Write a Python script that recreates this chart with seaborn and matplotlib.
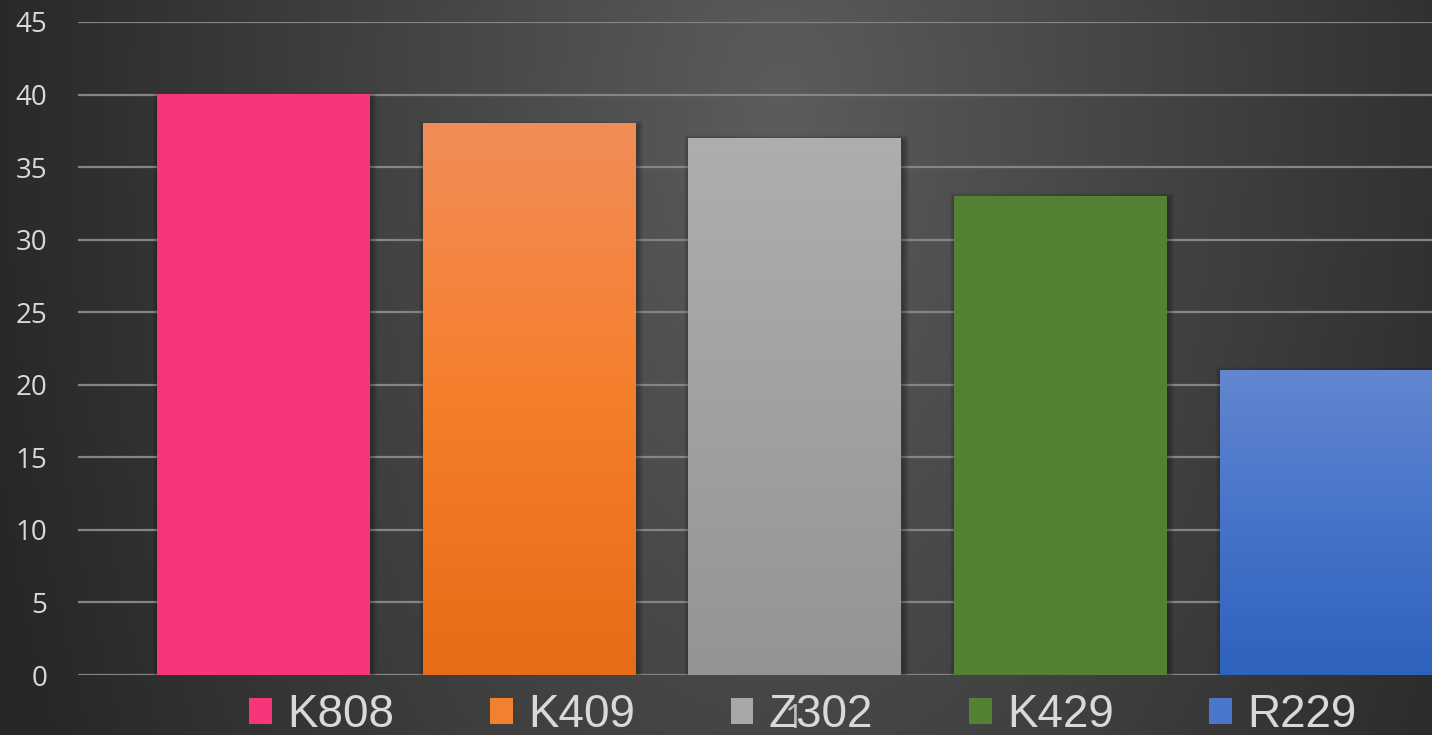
import numpy as np
import pandas as pd
import matplotlib
matplotlib.use("Agg")
import matplotlib.pyplot as plt
import seaborn as sns
from matplotlib.colors import LinearSegmentedColormap
from matplotlib.patches import Patch, Rectangle

series = ["K808", "K409", "Z302", "K429", "R229"]
values = [40, 38, 37, 33, 21]
category = "1"
yticks = [0, 5, 10, 15, 20, 25, 30, 35, 40, 45]

# top -> bottom colour stops for each bar
stops = {
    "K808": ["#F8357B", "#F8357B"],
    "K409": ["#F28D58", "#F57E2A", "#E66C17"],
    "Z302": ["#AEAEAE", "#A1A1A1", "#949494"],
    "K429": ["#548235", "#548235"],
    "R229": ["#6386CF", "#4673CA", "#2F62BD"],
}
legend_colors = ["#F8357B", "#F2802E", "#A8A8A8", "#548235", "#4A77CB"]

df = pd.DataFrame({"cat": [category] * len(series), "series": series, "value": values})

sns.set_theme(style="dark")
W, H = 1432, 735
fig = plt.figure(figsize=(W / 100, H / 100), dpi=100)

# radial background
bg = fig.add_axes([0, 0, 1, 1])
bg.axis("off")
yy, xx = np.mgrid[0:H, 0:W]
d = np.sqrt(((xx - 780) / 800.0) ** 2 + ((yy - 120) / 1400.0) ** 2)
d = np.clip(d, 0, 1)
v = (92 - 52 * d) / 255.0
bg.imshow(np.dstack([v, v, v]), extent=[0, 1, 0, 1], aspect="auto", origin="upper")
bg.set_xlim(0, 1)
bg.set_ylim(0, 1)

ax = fig.add_axes([78 / W, 60 / H, 1433 / W, 653 / H])
ax.patch.set_alpha(0)

sns.barplot(data=df, x="cat", y="value", hue="series", hue_order=series,
            palette=legend_colors, width=0.927, gap=0.2, legend=False,
            ax=ax, zorder=3)

px_x = 1.0 / 1433
px_y = 45.0 / 653
bars = sorted(ax.patches, key=lambda p: p.get_x())
for name, p in zip(series, bars):
    x0, y0, w, h = p.get_x(), p.get_y(), p.get_width(), p.get_height()
    p.set_visible(False)
    # soft shadow
    for k in range(1, 7):
        ax.add_patch(Rectangle((x0 + 2 * px_x - k * px_x, y0 - 3 * px_y - k * px_y),
                               w + 2 * k * px_x, h + 2 * k * px_y,
                               facecolor="black", alpha=0.05, lw=0, zorder=2))
    cmap = LinearSegmentedColormap.from_list(name, stops[name])
    grad = np.linspace(0, 1, 256).reshape(-1, 1)
    ax.imshow(grad, cmap=cmap, extent=[x0, x0 + w, y0, y0 + h], aspect="auto",
              origin="upper", zorder=3.5)

ax.set_xlim(-0.5, 0.5)
ax.set_ylim(0, 45)
ax.set_yticks(yticks)
ax.set_xlabel("")
ax.set_ylabel("")
for s in ax.spines.values():
    s.set_visible(False)
ax.yaxis.grid(True, color="#858585", linewidth=1.6)
ax.xaxis.grid(False)
ax.set_axisbelow(True)
ax.tick_params(axis="y", length=0, pad=22, labelsize=20, labelcolor="#d9d9d9")
ax.tick_params(axis="x", length=0, pad=20, labelsize=24, labelcolor="#bfbfbf")
for lab in ax.get_yticklabels() + ax.get_xticklabels():
    lab.set_fontfamily("Open Sans")

handles = [Patch(facecolor=c, edgecolor="none") for c in legend_colors]
fig.legend(handles, series, loc="center left", bbox_to_anchor=(249 / W, 20 / H),
           ncol=5, frameon=False, prop={"family": "Liberation Sans", "size": 33},
           labelcolor="#d9d9d9", handlelength=0.5, handleheight=0.5,
           handletextpad=0.33, columnspacing=2.09, borderpad=0, borderaxespad=0)

fig.savefig("out.png", dpi=100)
